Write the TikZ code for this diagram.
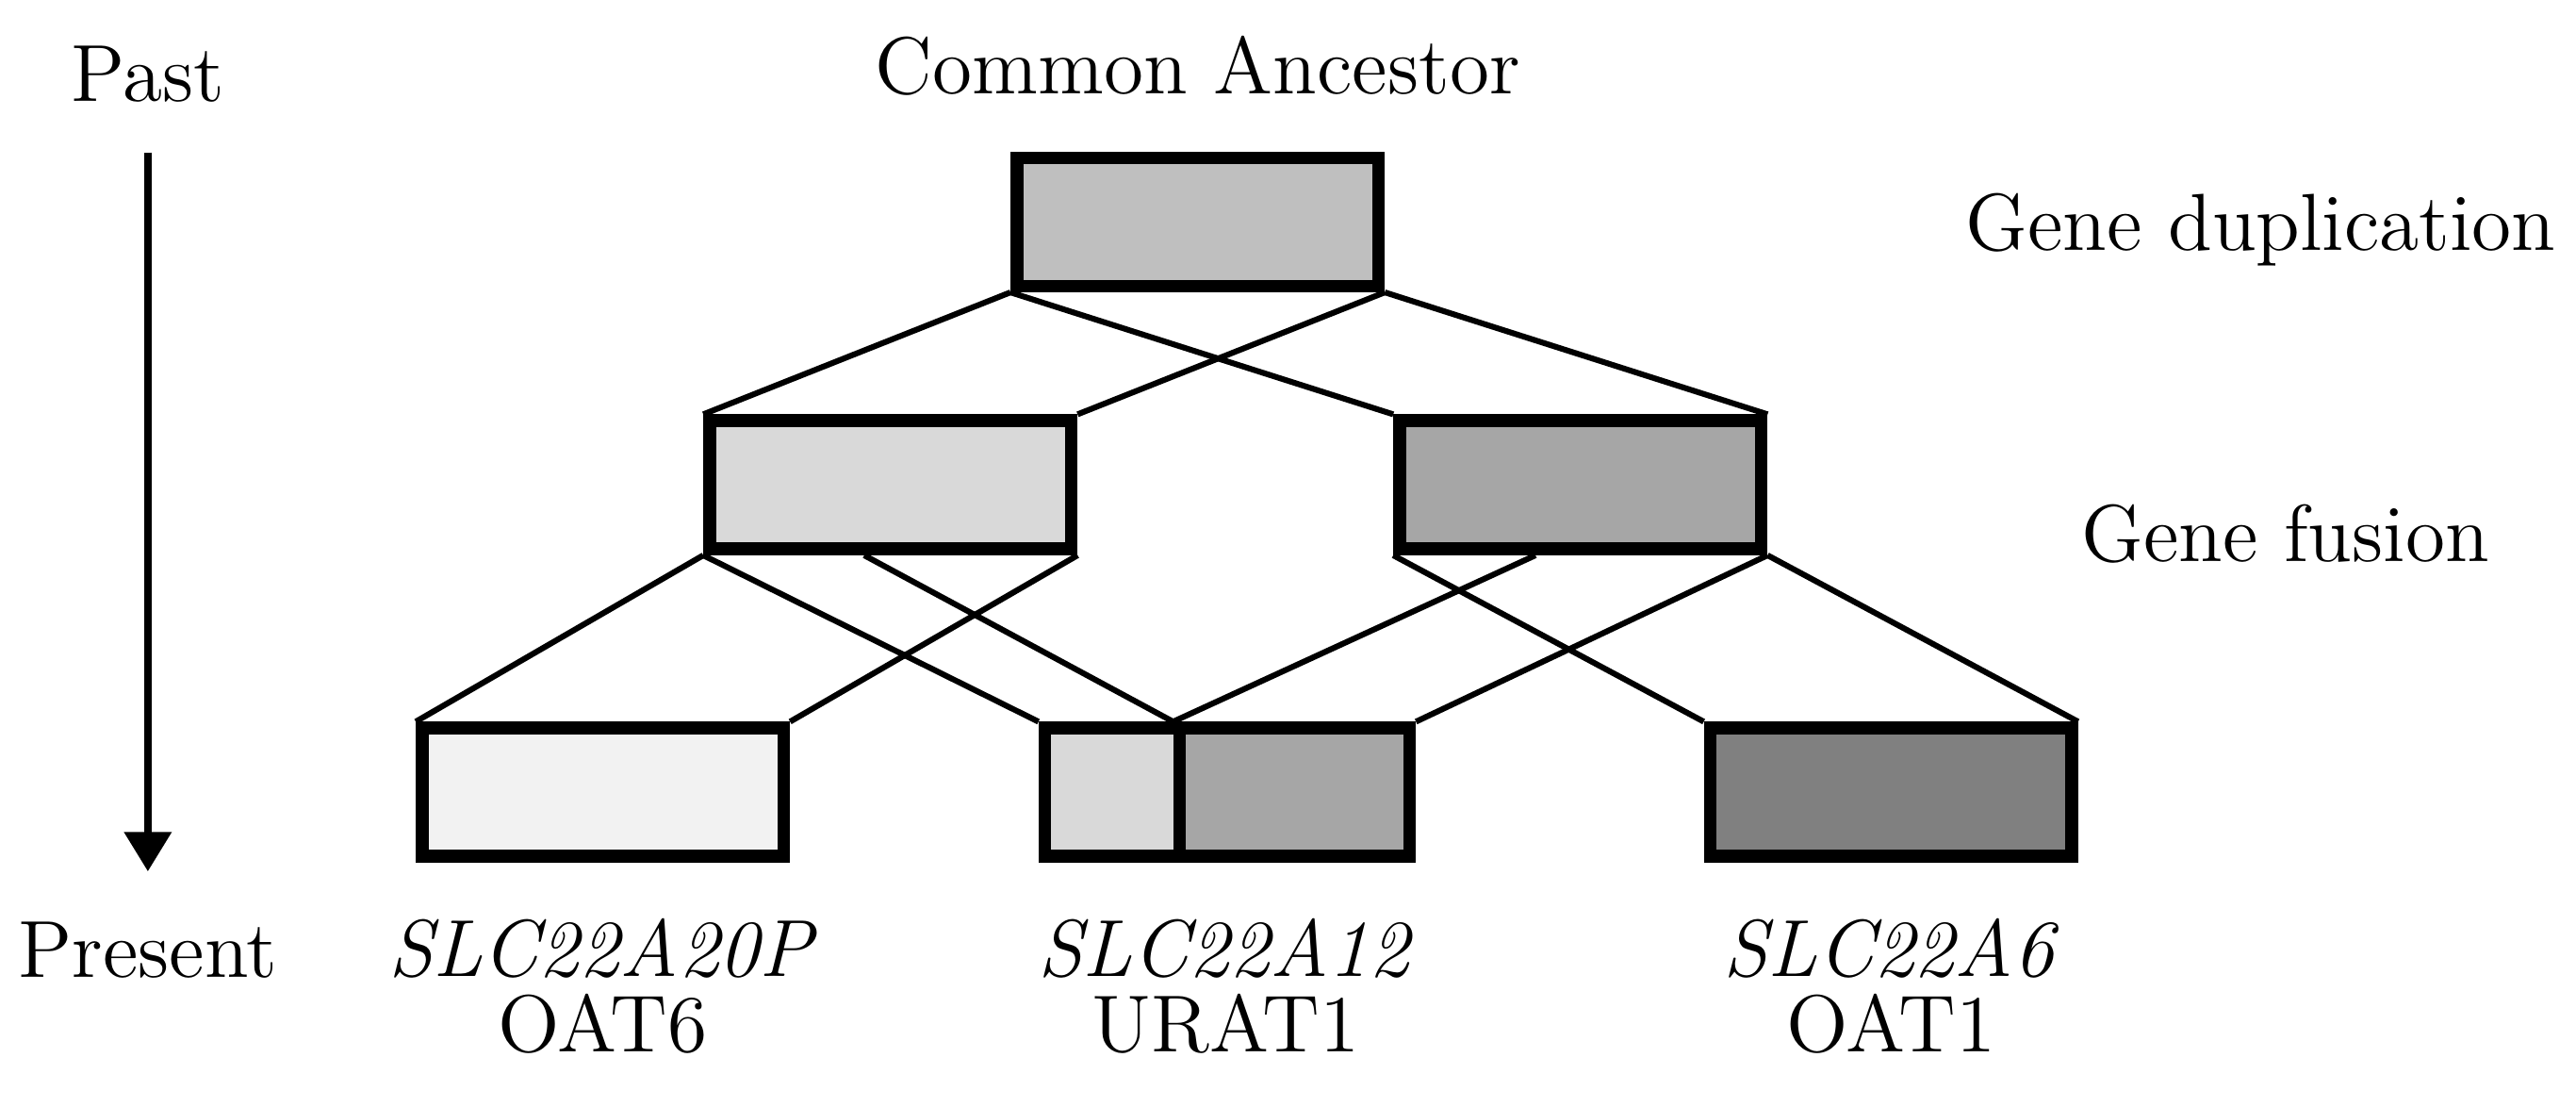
\documentclass[tikz,border=0pt]{standalone}
\usetikzlibrary{arrows.meta, calc}
\definecolor{ancfill}{gray}{0.75}
\definecolor{dupAfill}{gray}{0.85}
\definecolor{dupBfill}{gray}{0.65}
\definecolor{oatsixfill}{gray}{0.95}
\definecolor{oatonefill}{gray}{0.50}
\tikzset{
  gene/.style={draw, line width=2.2pt, minimum width=2.2cm, minimum height=0.78cm, inner sep=0pt},
  link/.style={line width=1pt},
  lbl/.style={font=\fontsize{14}{13}\selectfont, align=center, inner sep=0pt}
}
\begin{document}
\begin{tikzpicture}[x=0.01cm, y=-0.01cm]

% GLOBAL SETTINGS
\useasboundingbox (0,0) rectangle (1568,673.5);

% TIME AXIS
\node[lbl] (past) at (90,45) {Past};
\node[lbl] (present) at (90,578) {Present};
\draw[-{Triangle[width=0.28cm,length=0.24cm]}, line width=1.3pt, shorten <=0.3cm, shorten >=0.3cm] (past) -- (present);

% BOXES
\node[gene, fill=ancfill] (anc) at (729,135) {};
\node[gene, fill=dupAfill] (dupA) at (542,295) {};
\node[gene, fill=dupBfill] (dupB) at (962,295) {};
\node[gene, fill=oatsixfill] (oat6) at (367,482) {};
\node[gene, fill=dupAfill, minimum width=0.82cm] (urA) at (677,482) {};
\node[gene, fill=dupBfill, minimum width=1.4cm] (urB) at (788,482) {};
\node[gene, fill=oatonefill] (oat1) at (1151,482) {};
% helper coordinates
\coordinate (dupAmid) at ($(dupA.south west)!0.43!(dupA.south east)$);
\coordinate (dupBmid) at ($(dupB.south west)!0.38!(dupB.south east)$);

% LABELS
\node[lbl] (ancLabel) at (729,40) {Common Ancestor};
\node[lbl] (dupLabel) at (1376,140) {Gene duplication};
\node[lbl] (fusLabel) at (1391,325) {Gene fusion};
\node[lbl] (oat6Label) at (367,600) {\textit{SLC22A20P}\\OAT6};
\node[lbl] (urLabel) at (746,600) {\textit{SLC22A12}\\URAT1};
\node[lbl] (oat1Label) at (1151,600) {\textit{SLC22A6}\\OAT1};

% EDGES
\foreach \s/\t in {anc.south west/dupA.north west, anc.south west/dupB.north west,
  anc.south east/dupA.north east, anc.south east/dupB.north east,
  dupA.south west/oat6.north west, dupA.south west/urA.north west,
  dupAmid/urB.north west, dupA.south east/oat6.north east,
  dupB.south west/oat1.north west, dupBmid/urB.north west,
  dupB.south east/urB.north east, dupB.south east/oat1.north east} {
\draw[link] (\s) -- (\t) ;
}
\end{tikzpicture}
\end{document}
